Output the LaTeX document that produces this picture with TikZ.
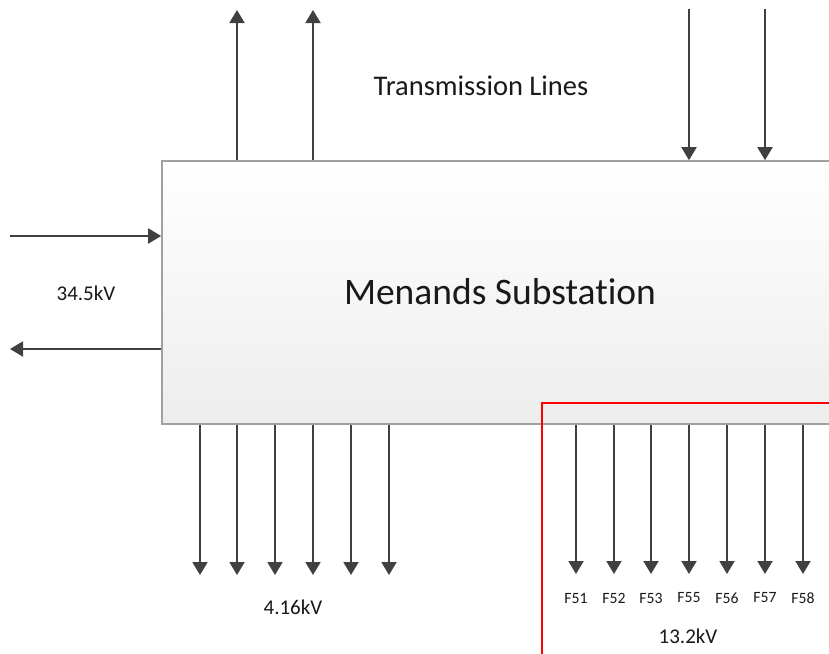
\documentclass[tikz,border=0pt]{standalone}
\usepackage{fontspec}
\setmainfont[Ligatures=NoCommon]{Carlito}
\usetikzlibrary{arrows.meta,positioning}

\definecolor{linegray}{HTML}{404040}
\definecolor{boxgray}{HTML}{A0A0A0}
\definecolor{boxfill}{HTML}{EDEDED}

\tikzset{
  feeder/.style={draw=linegray, line width=1.9pt, -{Triangle[length=13pt,width=15pt]}},
  substation/.style={draw=boxgray, line width=1.6pt, top color=white, bottom color=boxfill,
    minimum width=676pt, minimum height=263pt, inner sep=0pt},
  lbl/.style={inner sep=0pt, text=black!90}
}

\begin{document}
\begin{tikzpicture}[x=1pt,y=-1pt]
  \useasboundingbox (0,0) rectangle (829,653);
  \clip (0,0) rectangle (829,653);
  \fill[white] (0,0) rectangle (829,653);

  % substation box
  \node[substation] (sub) at (500,292.5) {};
  \node[lbl, font=\fontsize{37.5}{42}\selectfont] (name) at (500,292) {Menands Substation};

  % transmission lines
  \foreach \x [count=\i] in {237,313} {
    \coordinate (up\i) at (\x,10);
    \draw[feeder] (sub.north -| up\i) -- (up\i);
  }
  \foreach \x [count=\i] in {689,765} {
    \coordinate (dn\i) at (\x,9);
    \draw[feeder] (dn\i) -- (sub.north -| dn\i);
  }
  \node[lbl, font=\fontsize{28.5}{32}\selectfont] (trans) at (481,86) {Transmission Lines};

  % 34.5kV
  \coordinate (in) at (10,236);
  \coordinate (out) at (10,349);
  \draw[feeder] (in) -- (sub.west |- in);
  \draw[feeder] (sub.west |- out) -- (out);
  \node[lbl, font=\fontsize{21}{24}\selectfont] (mid) at (86,293) {34.5kV};

  % 4.16kV
  \foreach \x [count=\i] in {200,237,275,313,351,389} {
    \coordinate (lo\i) at (\x,575);
    \draw[feeder] (sub.south -| lo\i) -- (lo\i);
  }
  \node[lbl, font=\fontsize{21}{24}\selectfont] (low) at (293,607) {4.16kV};

  % 13.2kV
  \draw[red, line width=2pt] (542,670) |- (850,403);
  \foreach \x/\f [count=\i] in {576/F51,614/F52,651/F53,689/F55,727/F56,765/F57,803/F58} {
    \coordinate (hi\i) at (\x,574);
    \draw[feeder] (sub.south -| hi\i) -- (hi\i);
    \node[lbl, font=\fontsize{15.7}{18}\selectfont] (f\i) at (\x,598) {\f};
  }
  \node[lbl, font=\fontsize{21}{24}\selectfont] (high) at (688,636) {13.2kV};
\end{tikzpicture}
\end{document}
